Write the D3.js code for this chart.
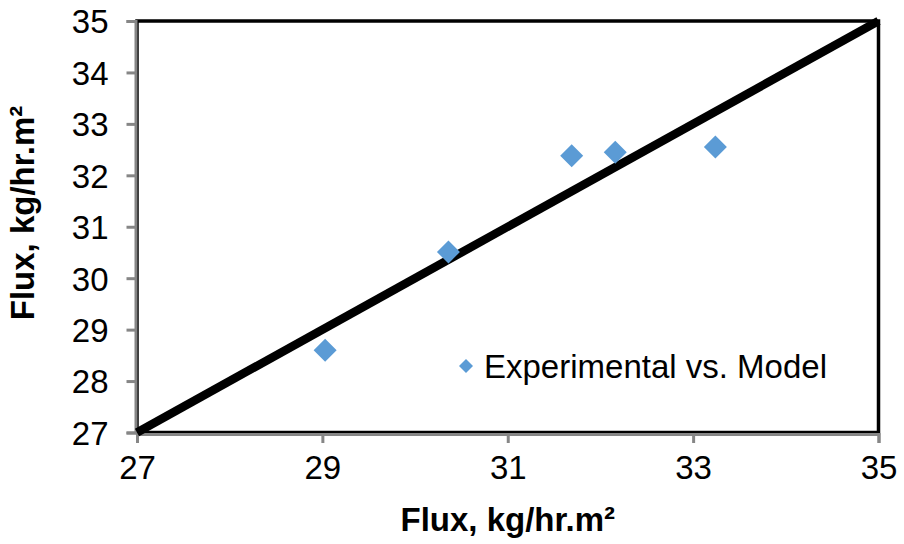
<!DOCTYPE html>
<html>
<head>
<meta charset="utf-8">
<script src="https://d3js.org/d3.v7.min.js"></script>
<style>
  body { margin: 0; background: #fff; }
  text { font-family: "Liberation Sans", Arial, sans-serif; fill: #000; }
</style>
</head>
<body>
<script>
// experimental vs. model flux values
var expFlux = [29.03, 30.36, 31.69, 32.16, 33.24];
var modelFlux = [28.60, 30.51, 32.38, 32.45, 32.55];
var xTicks = [27, 29, 31, 33, 35];
var yTicks = [27, 28, 29, 30, 31, 32, 33, 34, 35];
var parity = [27, 35];
var seriesName = "Experimental vs. Model";
var axisTitle = "Flux, kg/hr.m\u00B2";

var width = 904, height = 544;
var margin = {left: 137, right: 25, top: 21, bottom: 111};

var svg = d3.select("body").append("svg")
    .attr("width", width)
    .attr("height", height);

var x = d3.scaleLinear().domain([27, 35]).range([margin.left, width - margin.right - 0.5]);
var y = d3.scaleLinear().domain([27, 35]).range([height - margin.bottom - 0.5, margin.top]);

// plot frame
svg.append("rect")
    .attr("x", x(27)).attr("y", y(35))
    .attr("width", x(35) - x(27)).attr("height", y(27) - y(35))
    .attr("fill", "none")
    .attr("stroke", "#000")
    .attr("stroke-width", 3.5);

// axes (gray, outward ticks)
var xAxis = svg.append("g")
    .attr("transform", "translate(0," + (y(27) + 1.5) + ")")
    .call(d3.axisBottom(x).tickValues(xTicks).tickSize(9).tickPadding(13));
var yAxis = svg.append("g")
    .attr("transform", "translate(" + (x(27) - 1.5) + ",0)")
    .call(d3.axisLeft(y).tickValues(yTicks).tickSize(9).tickPadding(18));

[xAxis, yAxis].forEach(function(g) {
  g.select(".domain").attr("stroke", "#868686").attr("stroke-width", 3);
  g.selectAll(".tick line").attr("stroke", "#868686").attr("stroke-width", 3);
  g.selectAll(".tick text")
    .attr("font-family", "Liberation Sans, Arial, sans-serif")
    .attr("font-size", 33)
    .attr("fill", "#000");
});
yAxis.selectAll(".tick text").attr("dy", "0.36em");

// 1:1 line
svg.append("line")
    .attr("x1", x(parity[0])).attr("y1", y(parity[0]))
    .attr("x2", x(parity[1])).attr("y2", y(parity[1]))
    .attr("stroke", "#000")
    .attr("stroke-width", 8.5);

// points
var diamond = function(s) {
  return "M0," + (-s) + "L" + s + ",0L0," + s + "L" + (-s) + ",0Z";
};
svg.selectAll(".pt")
    .data(expFlux.map(function(v, i) { return {x: v, y: modelFlux[i]}; }))
    .enter().append("path")
    .attr("class", "pt")
    .attr("transform", function(d) { return "translate(" + x(d.x) + "," + y(d.y) + ")"; })
    .attr("d", diamond(11.5))
    .attr("fill", "#5B9BD5");

// legend
svg.append("path")
    .attr("transform", "translate(466,366)")
    .attr("d", diamond(7))
    .attr("fill", "#5B9BD5");
svg.append("text")
    .attr("x", 484).attr("y", 378)
    .attr("font-size", 33)
    .text(seriesName);

// axis titles
svg.append("text")
    .attr("x", x(31)).attr("y", 531)
    .attr("text-anchor", "middle")
    .attr("font-size", 33)
    .attr("font-weight", "bold")
    .text(axisTitle);
svg.append("text")
    .attr("transform", "translate(34," + 213 + ") rotate(-90)")
    .attr("text-anchor", "middle")
    .attr("font-size", 33)
    .attr("font-weight", "bold")
    .text(axisTitle);
</script>
</body>
</html>
